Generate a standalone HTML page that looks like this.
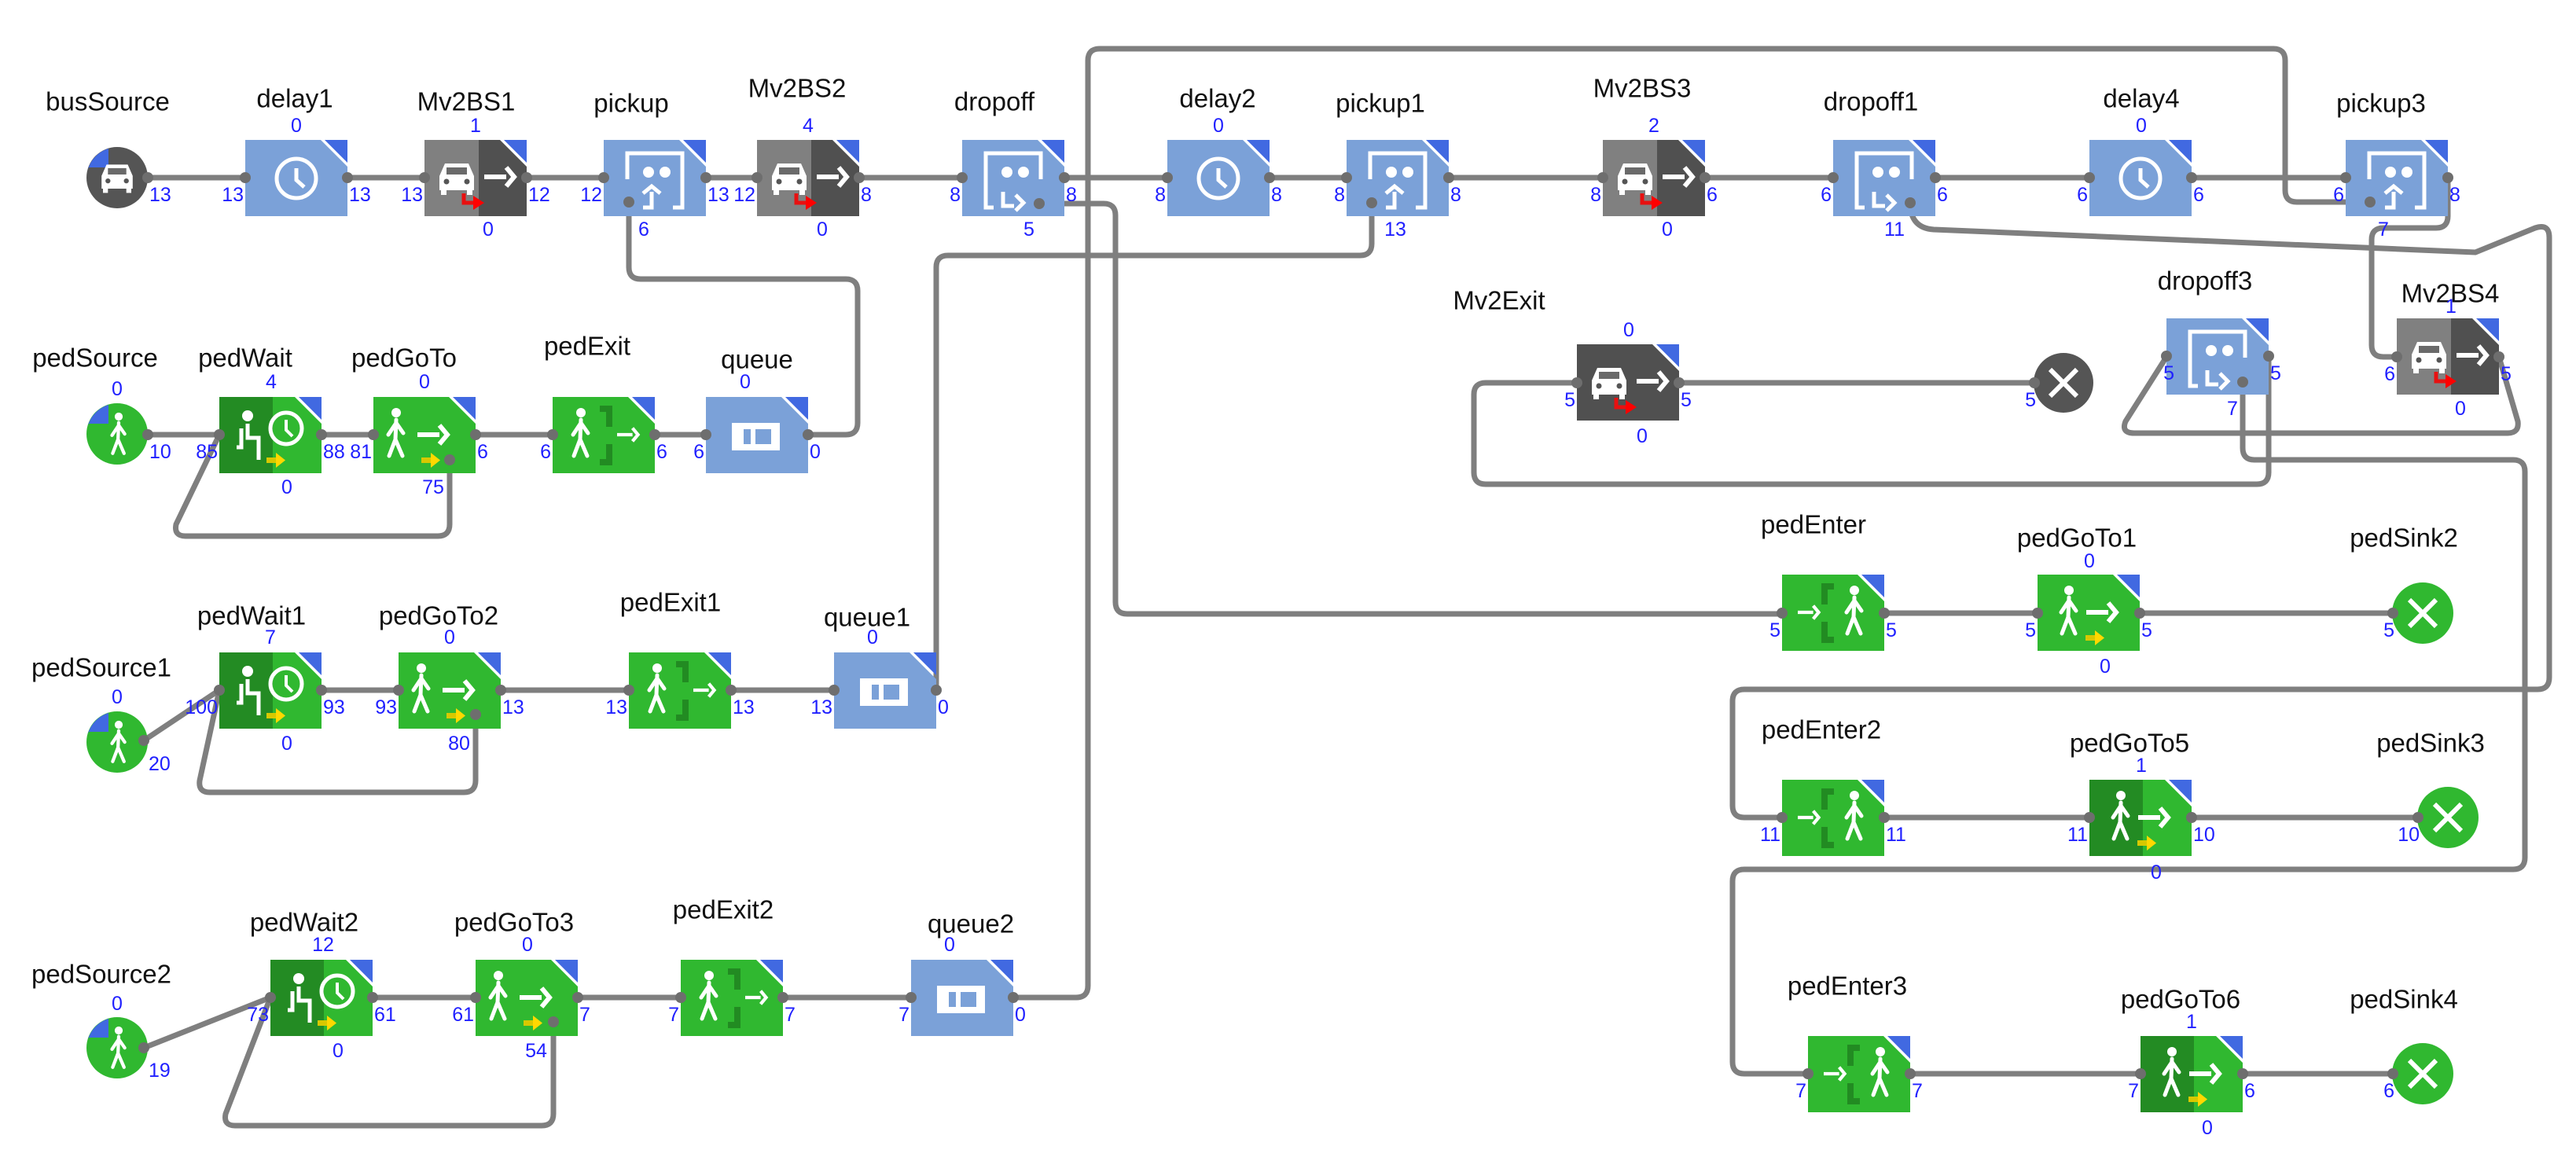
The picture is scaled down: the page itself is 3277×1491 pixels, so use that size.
<!DOCTYPE html>
<html><head><meta charset="utf-8"><style>
html,body{margin:0;padding:0;background:#fff;}
svg{display:block;}
.n{font-family:"Liberation Sans",sans-serif;font-size:33px;fill:#111;text-anchor:middle;dominant-baseline:central;}
.c{font-family:"Liberation Sans",sans-serif;font-size:25px;fill:#2020ff;dominant-baseline:central;}
.m{text-anchor:middle}.e{text-anchor:end}.s{text-anchor:start}
.w{fill:none;stroke:#7f7f7f;stroke-width:7;stroke-linejoin:round;stroke-linecap:round}
</style></head><body>
<svg width="3277" height="1491" viewBox="0 0 3277 1491" xmlns="http://www.w3.org/2000/svg">
<defs>
<path id="bx" d="M0 0H96L130 34V97H0Z"/>
<path id="cr" d="M101 0H130V29Z" fill="#4169e1"/>
<g id="clock" fill="none" stroke="#fff" stroke-width="5"><circle cx="65" cy="49" r="25"/><path d="M65 36V51L75 60"/></g>
<g id="queueI"><path d="M33 33H94V68H33Z M48 41V60H57V41Z M63 41V60H83V41Z" fill="#fff" fill-rule="evenodd"/></g>
<g id="pickI" fill="none" stroke="#fff" stroke-width="5"><path d="M30 50V17H100V86H88"/><path d="M50 68L61 59L72 68"/><path d="M61 66V86H50"/></g>
<g id="dropI" fill="none" stroke="#fff" stroke-width="5"><path d="M40 86H30V17H100V50"/><path d="M52 66V84H66"/><path d="M68 70L78 80L68 90"/></g>
<g id="dots" fill="#fff"><circle cx="57" cy="41" r="7"/><circle cx="78" cy="41" r="7"/></g>
<g id="car"><path d="M-22 2L-15 -14H15L22 2V20H-22Z" fill="#fff"/><rect x="-13" y="-9" width="26" height="9" fill="#6a6a6a"/><circle cx="-13" cy="9" r="3.5" fill="#555"/><circle cx="13" cy="9" r="3.5" fill="#555"/><rect x="-20" y="20" width="7" height="6" fill="#fff"/><rect x="13" y="20" width="7" height="6" fill="#fff"/></g>
<g id="arr" fill="none" stroke="#fff" stroke-width="6"><path d="M0 0H28"/><path d="M28 -12L38 0L28 12"/></g>
<g id="red"><path d="M50 68V80H64" fill="none" stroke="#e81010" stroke-width="5"/><path d="M62 71L76 80L62 89Z" fill="#ff0000"/></g>
<g id="yel"><rect x="-14" y="-3" width="14" height="7" fill="#d8c800"/><path d="M-2 -9L10 0.5L-2 10Z" fill="#ffd800"/></g>
<g id="walk" fill="none" stroke="#fff" stroke-width="5" stroke-linecap="round"><circle cx="0" cy="0" r="6" fill="#fff" stroke="none"/><path d="M0 9L-1 34L-9 55M-1 34L8 55M0 13L-10 28M0 13L9 26"/></g>
<g id="sit" fill="none" stroke="#fff" stroke-width="5"><circle cx="0" cy="0" r="7" fill="#fff" stroke="none"/><path d="M0 10V28H14V56M-8 16V40H-14"/></g>
<g id="xx" stroke="#fff" stroke-width="6"><path d="M-17 -17L17 17M17 -17L-17 17"/></g>
<path id="bq" d="M-37 -11A39 39 0 0 1 -11 -37V-13H-37Z" fill="#4169e1"/>
</defs>

<!-- ============ CONNECTORS ============ -->
<g class="w">
<path d="M149 226H3114"/>
<path d="M800 257V340Q800 355 815 355H1076Q1091 355 1091 370V538Q1091 553 1076 553H1028"/>
<path d="M1322 259H1404Q1419 259 1419 274V766Q1419 781 1434 781H2267"/>
<path d="M1745 258V310Q1745 325 1730 325H1206Q1191 325 1191 340V878"/>
<path d="M1289 1269H1369Q1384 1269 1384 1254V77Q1384 62 1399 62H2892Q2907 62 2907 77V242Q2907 257 2922 257H3015"/>
<path d="M2430 258Q2430 290 2460 292L3149 321L3225 290Q3243 284 3243 302V862Q3243 877 3228 877H2219Q2204 877 2204 892V1025Q2204 1040 2219 1040H2267"/>
<path d="M3114 226V275Q3114 290 3099 290H3032Q3017 290 3017 305V439Q3017 454 3032 454H3049"/>
<path d="M3179 454L3203 536Q3205 551 3190 551H2715Q2698 551 2704 536L2756 454"/>
<path d="M2886 453V601Q2886 616 2871 616H1890Q1875 616 1875 601V502Q1875 487 1890 487H2006"/>
<path d="M2137 487H2625"/>
<path d="M2853 486V570Q2853 585 2868 585H3197Q3212 585 3212 600V1091Q3212 1106 3197 1106H2219Q2204 1106 2204 1121V1351Q2204 1366 2219 1366H2300"/>
<path d="M2267 780H3082"/>
<path d="M2267 1040H3114"/>
<path d="M2300 1366H3082"/>
<path d="M149 553H1028"/>
<path d="M572 585V667Q572 682 557 682H236Q221 682 224 667L279 553"/>
<path d="M279 878H1191"/>
<path d="M183 942L279 878"/>
<path d="M605 909V993Q605 1008 590 1008H267Q252 1008 254 993L279 878"/>
<path d="M344 1269H1289"/>
<path d="M183 1333L344 1269"/>
<path d="M704 1300V1417Q704 1432 689 1432H299Q284 1432 287 1417L344 1269"/>
</g>

<!-- ============ NODES ============ -->
<!-- busSource -->
<g transform="translate(149,226)"><circle r="39" fill="#555"/><use href="#bq"/><use href="#car" transform="translate(0,-4) scale(0.9)"/></g>

<!-- delay boxes -->
<g transform="translate(312,178)"><use href="#bx" fill="#7ba1d8"/><use href="#clock"/><use href="#cr"/></g>
<g transform="translate(1485,178)"><use href="#bx" fill="#7ba1d8"/><use href="#clock"/><use href="#cr"/></g>
<g transform="translate(2658,178)"><use href="#bx" fill="#7ba1d8"/><use href="#clock"/><use href="#cr"/></g>

<!-- Mv2BS boxes -->
<g transform="translate(540,178)"><use href="#bx" fill="#505050"/><rect width="69" height="97" fill="#808080"/><use href="#car" transform="translate(41,44)"/><use href="#arr" transform="translate(76,47)"/><use href="#red"/><use href="#cr"/></g>
<g transform="translate(963,178)"><use href="#bx" fill="#505050"/><rect width="69" height="97" fill="#808080"/><use href="#car" transform="translate(41,44)"/><use href="#arr" transform="translate(76,47)"/><use href="#red"/><use href="#cr"/></g>
<g transform="translate(2039,178)"><use href="#bx" fill="#505050"/><rect width="69" height="97" fill="#808080"/><use href="#car" transform="translate(41,44)"/><use href="#arr" transform="translate(76,47)"/><use href="#red"/><use href="#cr"/></g>
<g transform="translate(3049,405)"><use href="#bx" fill="#505050"/><rect width="69" height="97" fill="#808080"/><use href="#car" transform="translate(41,44)"/><use href="#arr" transform="translate(76,47)"/><use href="#red"/><use href="#cr"/></g>
<g transform="translate(2006,438)"><use href="#bx" fill="#505050"/><use href="#car" transform="translate(41,44)"/><use href="#arr" transform="translate(76,47)"/><use href="#red"/><use href="#cr"/></g>

<!-- pickup / dropoff -->
<g transform="translate(768,178)"><use href="#bx" fill="#7ba1d8"/><use href="#pickI"/><use href="#dots"/><use href="#cr"/></g>
<g transform="translate(1713,178)"><use href="#bx" fill="#7ba1d8"/><use href="#pickI"/><use href="#dots"/><use href="#cr"/></g>
<g transform="translate(2984,178)"><use href="#bx" fill="#7ba1d8"/><use href="#pickI"/><use href="#dots"/><use href="#cr"/></g>
<g transform="translate(1224,178)"><use href="#bx" fill="#7ba1d8"/><use href="#dropI"/><use href="#dots"/><use href="#cr"/></g>
<g transform="translate(2332,178)"><use href="#bx" fill="#7ba1d8"/><use href="#dropI"/><use href="#dots"/><use href="#cr"/></g>
<g transform="translate(2756,405)"><use href="#bx" fill="#7ba1d8"/><use href="#dropI"/><use href="#dots"/><use href="#cr"/></g>

<!-- bus sink -->
<g transform="translate(2625,487)"><circle r="38" fill="#555"/><use href="#xx"/></g>

<!-- ped sources -->
<g transform="translate(149,552)"><circle r="39" fill="#30b830"/><use href="#bq"/><use href="#walk" transform="translate(2,-22) scale(0.85)"/></g>
<g transform="translate(149,944)"><circle r="39" fill="#30b830"/><use href="#bq"/><use href="#walk" transform="translate(2,-22) scale(0.85)"/></g>
<g transform="translate(149,1333)"><circle r="39" fill="#30b830"/><use href="#bq"/><use href="#walk" transform="translate(2,-22) scale(0.85)"/></g>

<!-- pedWait -->
<g transform="translate(279,505)"><use href="#bx" fill="#30b830"/><rect width="68" height="97" fill="#238b23"/><use href="#sit" transform="translate(36,24)"/><circle cx="85" cy="40" r="20" fill="none" stroke="#fff" stroke-width="5"/><path d="M85 29V42L93 50" fill="none" stroke="#fff" stroke-width="4"/><use href="#yel" transform="translate(74,80)"/><use href="#cr"/></g>
<g transform="translate(279,830)"><use href="#bx" fill="#30b830"/><rect width="68" height="97" fill="#238b23"/><use href="#sit" transform="translate(36,24)"/><circle cx="85" cy="40" r="20" fill="none" stroke="#fff" stroke-width="5"/><path d="M85 29V42L93 50" fill="none" stroke="#fff" stroke-width="4"/><use href="#yel" transform="translate(74,80)"/><use href="#cr"/></g>
<g transform="translate(344,1221)"><use href="#bx" fill="#30b830"/><rect width="68" height="97" fill="#238b23"/><use href="#sit" transform="translate(36,24)"/><circle cx="85" cy="40" r="20" fill="none" stroke="#fff" stroke-width="5"/><path d="M85 29V42L93 50" fill="none" stroke="#fff" stroke-width="4"/><use href="#yel" transform="translate(74,80)"/><use href="#cr"/></g>

<!-- pedGoTo -->
<g transform="translate(475,505)"><use href="#bx" fill="#30b830"/><use href="#walk" transform="translate(29,20)"/><use href="#arr" transform="translate(56,48)"/><use href="#yel" transform="translate(75,80)"/><use href="#cr"/></g>
<g transform="translate(507,830)"><use href="#bx" fill="#30b830"/><use href="#walk" transform="translate(29,20)"/><use href="#arr" transform="translate(56,48)"/><use href="#yel" transform="translate(75,80)"/><use href="#cr"/></g>
<g transform="translate(605,1221)"><use href="#bx" fill="#30b830"/><use href="#walk" transform="translate(29,20)"/><use href="#arr" transform="translate(56,48)"/><use href="#yel" transform="translate(75,80)"/><use href="#cr"/></g>
<g transform="translate(2592,731)"><use href="#bx" fill="#30b830"/><use href="#walk" transform="translate(40,20)"/><use href="#arr" transform="translate(62,48)"/><use href="#yel" transform="translate(75,80)"/><use href="#cr"/></g>
<g transform="translate(2658,992)"><use href="#bx" fill="#30b830"/><rect width="68" height="97" fill="#238b23"/><use href="#walk" transform="translate(40,20)"/><use href="#arr" transform="translate(62,48)"/><use href="#yel" transform="translate(75,80)"/><use href="#cr"/></g>
<g transform="translate(2723,1318)"><use href="#bx" fill="#30b830"/><rect width="68" height="97" fill="#238b23"/><use href="#walk" transform="translate(40,20)"/><use href="#arr" transform="translate(62,48)"/><use href="#yel" transform="translate(75,80)"/><use href="#cr"/></g>

<!-- pedExit -->
<g transform="translate(703,505)"><use href="#bx" fill="#30b830"/><use href="#walk" transform="translate(36,20)"/><path d="M60 15H72V38M72 60V83H60" fill="none" stroke="#228b22" stroke-width="8"/><g transform="translate(82,48) scale(0.7)"><use href="#arr"/></g><use href="#cr"/></g>
<g transform="translate(800,830)"><use href="#bx" fill="#30b830"/><use href="#walk" transform="translate(36,20)"/><path d="M60 15H72V38M72 60V83H60" fill="none" stroke="#228b22" stroke-width="8"/><g transform="translate(82,48) scale(0.7)"><use href="#arr"/></g><use href="#cr"/></g>
<g transform="translate(866,1221)"><use href="#bx" fill="#30b830"/><use href="#walk" transform="translate(36,20)"/><path d="M60 15H72V38M72 60V83H60" fill="none" stroke="#228b22" stroke-width="8"/><g transform="translate(82,48) scale(0.7)"><use href="#arr"/></g><use href="#cr"/></g>

<!-- pedEnter -->
<g transform="translate(2267,731)"><use href="#bx" fill="#30b830"/><g transform="translate(20,48) scale(0.7)"><use href="#arr"/></g><path d="M66 15H54V38M54 60V83H66" fill="none" stroke="#228b22" stroke-width="8"/><use href="#walk" transform="translate(92,20)"/><use href="#cr"/></g>
<g transform="translate(2267,992)"><use href="#bx" fill="#30b830"/><g transform="translate(20,48) scale(0.7)"><use href="#arr"/></g><path d="M66 15H54V38M54 60V83H66" fill="none" stroke="#228b22" stroke-width="8"/><use href="#walk" transform="translate(92,20)"/><use href="#cr"/></g>
<g transform="translate(2300,1318)"><use href="#bx" fill="#30b830"/><g transform="translate(20,48) scale(0.7)"><use href="#arr"/></g><path d="M66 15H54V38M54 60V83H66" fill="none" stroke="#228b22" stroke-width="8"/><use href="#walk" transform="translate(92,20)"/><use href="#cr"/></g>

<!-- queues -->
<g transform="translate(898,505)"><use href="#bx" fill="#7ba1d8"/><use href="#queueI"/><use href="#cr"/></g>
<g transform="translate(1061,830)"><use href="#bx" fill="#7ba1d8"/><use href="#queueI"/><use href="#cr"/></g>
<g transform="translate(1159,1221)"><use href="#bx" fill="#7ba1d8"/><use href="#queueI"/><use href="#cr"/></g>

<!-- ped sinks -->
<g transform="translate(3082,780)"><circle r="39" fill="#30b830"/><use href="#xx"/></g>
<g transform="translate(3114,1040)"><circle r="39" fill="#30b830"/><use href="#xx"/></g>
<g transform="translate(3082,1366)"><circle r="39" fill="#30b830"/><use href="#xx"/></g>

<!-- port dots -->
<g fill="#6e6e6e">
<circle cx="188" cy="226" r="7"/><circle cx="312" cy="226" r="7"/><circle cx="442" cy="226" r="7"/><circle cx="540" cy="226" r="7"/><circle cx="670" cy="226" r="7"/><circle cx="768" cy="226" r="7"/><circle cx="898" cy="226" r="7"/><circle cx="963" cy="226" r="7"/><circle cx="1093" cy="226" r="7"/><circle cx="1224" cy="226" r="7"/><circle cx="1354" cy="226" r="7"/><circle cx="1485" cy="226" r="7"/><circle cx="1615" cy="226" r="7"/><circle cx="1713" cy="226" r="7"/><circle cx="1843" cy="226" r="7"/><circle cx="2039" cy="226" r="7"/><circle cx="2169" cy="226" r="7"/><circle cx="2332" cy="226" r="7"/><circle cx="2462" cy="226" r="7"/><circle cx="2658" cy="226" r="7"/><circle cx="2788" cy="226" r="7"/><circle cx="2984" cy="226" r="7"/><circle cx="3114" cy="226" r="7"/>
<circle cx="800" cy="257" r="7"/><circle cx="1322" cy="259" r="7"/><circle cx="1745" cy="258" r="7"/><circle cx="2430" cy="258" r="7"/><circle cx="3015" cy="257" r="7"/>
<circle cx="2006" cy="487" r="7"/><circle cx="2136" cy="487" r="7"/><circle cx="2588" cy="487" r="7"/>
<circle cx="2756" cy="453" r="7"/><circle cx="2886" cy="453" r="7"/><circle cx="2853" cy="486" r="7"/><circle cx="3049" cy="454" r="7"/><circle cx="3179" cy="454" r="7"/>
<circle cx="188" cy="553" r="7"/><circle cx="279" cy="553" r="7"/><circle cx="409" cy="553" r="7"/><circle cx="475" cy="553" r="7"/><circle cx="605" cy="553" r="7"/><circle cx="572" cy="585" r="7"/><circle cx="703" cy="553" r="7"/><circle cx="833" cy="553" r="7"/><circle cx="898" cy="553" r="7"/><circle cx="1028" cy="553" r="7"/>
<circle cx="183" cy="942" r="7"/><circle cx="279" cy="878" r="7"/><circle cx="409" cy="878" r="7"/><circle cx="507" cy="878" r="7"/><circle cx="637" cy="878" r="7"/><circle cx="605" cy="909" r="7"/><circle cx="800" cy="878" r="7"/><circle cx="930" cy="878" r="7"/><circle cx="1061" cy="878" r="7"/><circle cx="1191" cy="878" r="7"/>
<circle cx="183" cy="1333" r="7"/><circle cx="344" cy="1269" r="7"/><circle cx="474" cy="1269" r="7"/><circle cx="605" cy="1269" r="7"/><circle cx="735" cy="1269" r="7"/><circle cx="704" cy="1300" r="7"/><circle cx="866" cy="1269" r="7"/><circle cx="996" cy="1269" r="7"/><circle cx="1159" cy="1269" r="7"/><circle cx="1289" cy="1269" r="7"/>
<circle cx="2267" cy="780" r="7"/><circle cx="2397" cy="780" r="7"/><circle cx="2592" cy="780" r="7"/><circle cx="2722" cy="780" r="7"/><circle cx="3044" cy="780" r="7"/>
<circle cx="2267" cy="1040" r="7"/><circle cx="2397" cy="1040" r="7"/><circle cx="2658" cy="1040" r="7"/><circle cx="2788" cy="1040" r="7"/><circle cx="3076" cy="1040" r="7"/>
<circle cx="2300" cy="1366" r="7"/><circle cx="2430" cy="1366" r="7"/><circle cx="2723" cy="1366" r="7"/><circle cx="2853" cy="1366" r="7"/><circle cx="3044" cy="1366" r="7"/>
</g>

<!-- ============ NAMES ============ -->
<text class="n" x="137" y="129">busSource</text>
<text class="n" x="375" y="125">delay1</text>
<text class="n" x="593" y="129">Mv2BS1</text>
<text class="n" x="803" y="131">pickup</text>
<text class="n" x="1014" y="112">Mv2BS2</text>
<text class="n" x="1265" y="129">dropoff</text>
<text class="n" x="1549" y="125">delay2</text>
<text class="n" x="1756" y="131">pickup1</text>
<text class="n" x="2089" y="112">Mv2BS3</text>
<text class="n" x="2380" y="129">dropoff1</text>
<text class="n" x="2724" y="125">delay4</text>
<text class="n" x="3029" y="131">pickup3</text>
<text class="n" x="1907" y="382">Mv2Exit</text>
<text class="n" x="2805" y="357">dropoff3</text>
<text class="n" x="3117" y="373">Mv2BS4</text>
<text class="n" x="121" y="455">pedSource</text>
<text class="n" x="312" y="455">pedWait</text>
<text class="n" x="514" y="455">pedGoTo</text>
<text class="n" x="747" y="440">pedExit</text>
<text class="n" x="963" y="457">queue</text>
<text class="n" x="129" y="849">pedSource1</text>
<text class="n" x="320" y="783">pedWait1</text>
<text class="n" x="558" y="783">pedGoTo2</text>
<text class="n" x="853" y="766">pedExit1</text>
<text class="n" x="1103" y="785">queue1</text>
<text class="n" x="129" y="1239">pedSource2</text>
<text class="n" x="387" y="1173">pedWait2</text>
<text class="n" x="654" y="1173">pedGoTo3</text>
<text class="n" x="920" y="1157">pedExit2</text>
<text class="n" x="1235" y="1175">queue2</text>
<text class="n" x="2307" y="667">pedEnter</text>
<text class="n" x="2642" y="684">pedGoTo1</text>
<text class="n" x="3058" y="684">pedSink2</text>
<text class="n" x="2317" y="928">pedEnter2</text>
<text class="n" x="2709" y="945">pedGoTo5</text>
<text class="n" x="3092" y="945">pedSink3</text>
<text class="n" x="2350" y="1254">pedEnter3</text>
<text class="n" x="2774" y="1271">pedGoTo6</text>
<text class="n" x="3058" y="1271">pedSink4</text>

<!-- ============ COUNTS ============ -->
<g class="c m">
<text x="377" y="160">0</text><text x="605" y="160">1</text><text x="1028" y="160">4</text><text x="1550" y="160">0</text><text x="2104" y="160">2</text><text x="2724" y="160">0</text>
<text x="149" y="495">0</text><text x="345" y="486">4</text><text x="540" y="486">0</text><text x="948" y="486">0</text>
<text x="149" y="887">0</text><text x="344" y="811">7</text><text x="572" y="811">0</text><text x="1110" y="811">0</text>
<text x="149" y="1277">0</text><text x="411" y="1202">12</text><text x="671" y="1202">0</text><text x="1208" y="1202">0</text>
<text x="2072" y="420">0</text><text x="3118" y="390">1</text>
<text x="2658" y="714">0</text><text x="2724" y="974">1</text><text x="2788" y="1300">1</text>
<text x="621" y="292">0</text><text x="819" y="292">6</text><text x="1046" y="292">0</text><text x="1309" y="292">5</text><text x="1775" y="292">13</text><text x="2121" y="292">0</text><text x="2410" y="292">11</text><text x="3032" y="292">7</text>
<text x="365" y="620">0</text><text x="551" y="620">75</text>
<text x="365" y="946">0</text><text x="584" y="946">80</text>
<text x="430" y="1337">0</text><text x="682" y="1337">54</text>
<text x="2089" y="555">0</text><text x="2840" y="520">7</text><text x="3130" y="520">0</text>
<text x="2678" y="848">0</text><text x="2743" y="1110">0</text><text x="2808" y="1435">0</text>
</g>
<!-- right-side port labels (start) -->
<g class="c s">
<text x="190" y="248">13</text><text x="444" y="248">13</text><text x="672" y="248">12</text><text x="900" y="248">13</text><text x="1095" y="248">8</text><text x="1356" y="248">8</text><text x="1617" y="248">8</text><text x="1845" y="248">8</text><text x="2171" y="248">6</text><text x="2464" y="248">6</text><text x="2790" y="248">6</text><text x="3116" y="248">8</text>
<text x="2138" y="509">5</text><text x="2888" y="475">5</text><text x="3181" y="476">5</text>
<text x="190" y="575">10</text><text x="411" y="575">88</text><text x="607" y="575">6</text><text x="835" y="575">6</text><text x="1030" y="575">0</text>
<text x="189" y="972">20</text><text x="411" y="900">93</text><text x="639" y="900">13</text><text x="932" y="900">13</text><text x="1193" y="900">0</text>
<text x="189" y="1362">19</text><text x="476" y="1291">61</text><text x="737" y="1291">7</text><text x="998" y="1291">7</text><text x="1291" y="1291">0</text>
<text x="2399" y="802">5</text><text x="2724" y="802">5</text>
<text x="2399" y="1062">11</text><text x="2790" y="1062">10</text>
<text x="2432" y="1388">7</text><text x="2855" y="1388">6</text>
</g>
<!-- left-side port labels (end) -->
<g class="c e">
<text x="310" y="248">13</text><text x="538" y="248">13</text><text x="766" y="248">12</text><text x="961" y="248">12</text><text x="1222" y="248">8</text><text x="1483" y="248">8</text><text x="1711" y="248">8</text><text x="2037" y="248">8</text><text x="2330" y="248">6</text><text x="2656" y="248">6</text><text x="2982" y="248">6</text>
<text x="2004" y="509">5</text><text x="2590" y="509">5</text><text x="2766" y="475">5</text><text x="3047" y="476">6</text>
<text x="277" y="575">85</text><text x="473" y="575">81</text><text x="701" y="575">6</text><text x="896" y="575">6</text>
<text x="277" y="900">100</text><text x="505" y="900">93</text><text x="798" y="900">13</text><text x="1059" y="900">13</text>
<text x="342" y="1291">73</text><text x="603" y="1291">61</text><text x="864" y="1291">7</text><text x="1157" y="1291">7</text>
<text x="2265" y="802">5</text><text x="2590" y="802">5</text><text x="3046" y="802">5</text>
<text x="2265" y="1062">11</text><text x="2656" y="1062">11</text><text x="3078" y="1062">10</text>
<text x="2298" y="1388">7</text><text x="2721" y="1388">7</text><text x="3046" y="1388">6</text>
</g>
</svg>
</body></html>
